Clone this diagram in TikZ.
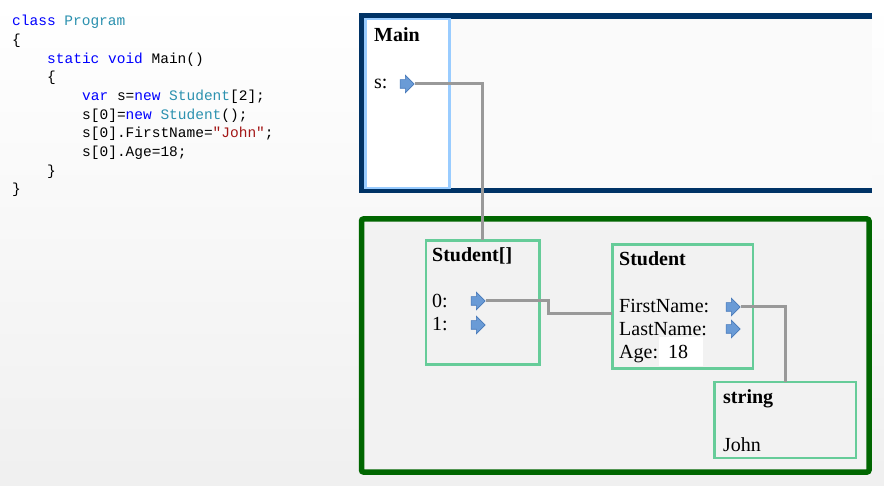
\documentclass[tikz,border=0pt]{standalone}
\usepackage{fontspec}
\setmainfont{Liberation Serif}
\newfontfamily\codefont{Liberation Mono}
\usetikzlibrary{shapes.arrows}

\definecolor{kwblue}{RGB}{0,0,255}
\definecolor{typeteal}{RGB}{43,145,175}
\definecolor{strred}{RGB}{163,21,21}
\definecolor{stackblue}{RGB}{0,51,102}
\definecolor{heapgreen}{RGB}{0,102,0}
\definecolor{framelight}{RGB}{153,204,255}
\definecolor{objgreen}{RGB}{102,204,153}
\definecolor{ptrfill}{RGB}{106,155,214}
\definecolor{ptrline}{RGB}{70,120,185}
\definecolor{linkgray}{RGB}{153,153,153}

\tikzset{
  code/.style={anchor=base west,inner sep=0,font=\codefont\fontsize{14.5}{18}\selectfont},
  lbl/.style={anchor=base west,inner sep=0,font=\fontsize{20}{23}\selectfont},
  ttl/.style={lbl,font=\fontsize{20}{23}\selectfont\bfseries},
  membox/.style={draw=objgreen,line width=2.7pt,anchor=north west,inner sep=0,outer sep=0},
  ptr/.style={single arrow,draw=ptrline,fill=ptrfill,line width=0.6pt,
    minimum height=14pt,single arrow head extend=4.5pt,inner sep=4pt},
  link/.style={draw=linkgray,line width=3pt}
}

\begin{document}
\begin{tikzpicture}[x=1pt,y=-1pt]
	
	\useasboundingbox (0,0) rectangle (884,486);
	\shade[top color=white,bottom color=black!6] (0,0) rectangle (884,486);
	
	% source code
	\node[code] (c1) at (12,25.7)  {\textcolor{kwblue}{class} \textcolor{typeteal}{Program}};
	\node[code] (c2) at (12,44.4)  {\{};
	\node[code] (c3) at (47,63.1)  {\textcolor{kwblue}{static} \textcolor{kwblue}{void} Main()};
	\node[code] (c4) at (47,81.8)  {\{};
	\node[code] (c5) at (82,100.5) {\textcolor{kwblue}{var} s=\textcolor{kwblue}{new} \textcolor{typeteal}{Student}[2];};
	\node[code] (c6) at (82,119.2) {s[0]=\textcolor{kwblue}{new} \textcolor{typeteal}{Student}();};
	\node[code] (c7) at (82,137.9) {s[0].FirstName=\textcolor{strred}{"John"};};
	\node[code] (c8) at (82,156.6) {s[0].Age=18;};
	\node[code] (c9) at (47,175.3) {\}};
	\node[code] (c10) at (12,194)  {\}};
	
	% stack (open on the right) and heap
	\fill[white!98!black] (361.5,16) rectangle (872,190.5);
	\draw[stackblue,line width=5.5pt] (872,16) -- (361.5,16) -- (361.5,190.5) -- (872,190.5);
	\draw[heapgreen,line width=5.5pt,fill=black!5,rounded corners=2pt] (361.5,219) rectangle (869,472);
	
	\node[membox,draw=framelight,fill=white,minimum width=84pt,minimum height=169pt] (main) at (365.5,19) {};
	\node[membox,minimum width=113.5pt,minimum height=124pt] (arr) at (426,240.5) {};
	\node[membox,minimum width=140.7pt,minimum height=123.8pt] (stu) at (612.3,244.7) {};
	\node[membox,minimum width=141.3pt,minimum height=76pt] (str) at (714.7,382) {};
	\node[fill=white,anchor=north west,inner sep=0,minimum width=44pt,minimum height=29pt] (agebg) at (659,337) {};
	
	\node[ttl] (tmain) at (374,42)  {Main};
	\node[lbl] (ls)    at (374,89)  {s:};
	\node[ttl] (tarr)  at (432,262) {Student[]};
	\node[lbl] (l0)    at (432,308) {0:};
	\node[lbl] (l1)    at (432,331) {1:};
	\node[ttl] (tstu)  at (619,266) {Student};
	\node[lbl] (lfn)   at (619,313) {FirstName:};
	\node[lbl] (lln)   at (619,336) {LastName:};
	\node[lbl] (lage)  at (619,359) {Age:};
	\node[lbl] (vage)  at (668,359) {18};
	\node[ttl] (tstr)  at (723,403) {string};
	\node[lbl] (vstr)  at (723,451) {John};
	
	% pointers
	\node[ptr] (ps)  at (405,84)  {};
	\node[ptr] (p0)  at (476,301) {};
	\node[ptr] (p1)  at (476,325) {};
	\node[ptr] (pfn) at (731,307) {};
	\node[ptr] (pln) at (731,329) {};
	
	% references
	\coordinate (j0) at (548,314);
	\path[link] (ps.tip) -| (arr.north);
	\path[link] (p0.tip) -| (j0) -- (j0 -| stu.west);
	\path[link] (pfn.tip) -| (str.north);
	
\end{tikzpicture}
\end{document}
